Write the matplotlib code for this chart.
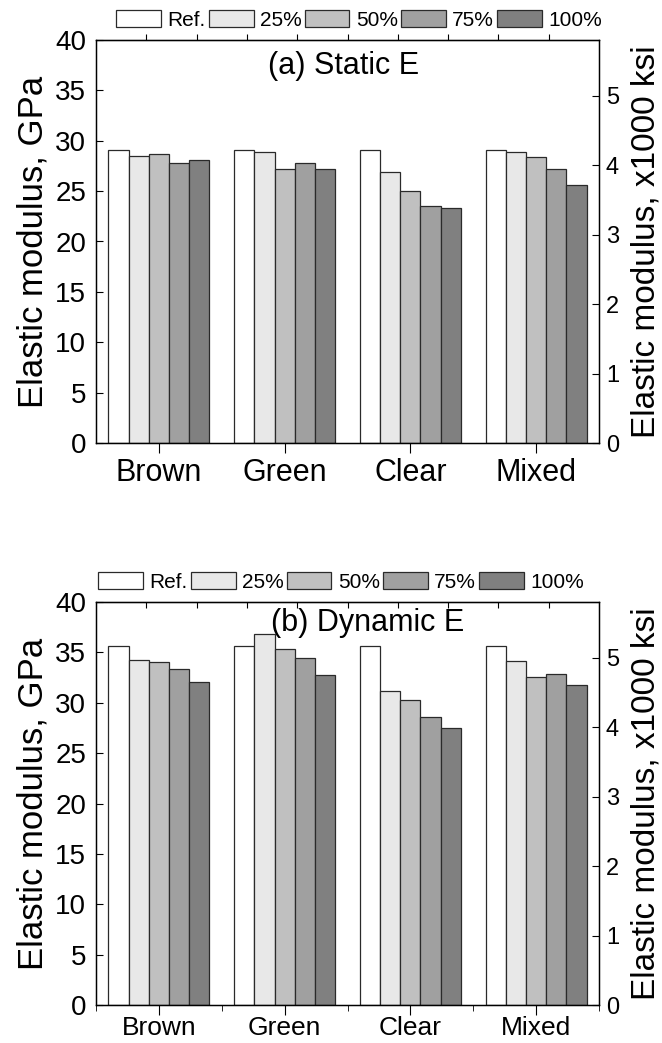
import matplotlib
matplotlib.use('Agg')
import matplotlib.pyplot as plt
import numpy as np

plt.rcParams['font.family'] = ['Liberation Sans', 'DejaVu Sans']

categories = ['Brown', 'Green', 'Clear', 'Mixed']
series = ['Ref.', '25%', '50%', '75%', '100%']
colors = ['#ffffff', '#e8e8e8', '#c0c0c0', '#a0a0a0', '#808080']

# static E, GPa  (rows = series, cols = categories)
static_ref = [29.1, 29.1, 29.1, 29.1]
static_25 = [28.5, 28.9, 26.9, 28.9]
static_50 = [28.7, 27.2, 25.0, 28.35]
static_75 = [27.8, 27.8, 23.5, 27.2]
static_100 = [28.1, 27.2, 23.35, 25.6]

# dynamic E, GPa
dyn_ref = [35.6, 35.6, 35.6, 35.6]
dyn_25 = [34.2, 36.8, 31.2, 34.1]
dyn_50 = [34.0, 35.3, 30.3, 32.55]
dyn_75 = [33.35, 34.45, 28.6, 32.85]
dyn_100 = [32.1, 32.75, 27.5, 31.75]

GPA_PER_KSI1000 = 6.895

fig = plt.figure(figsize=(6.62, 10.43), dpi=100)
W, H = 662.0, 1043.0


def panel(top_px, data, title, title_xy, leg_xy, catsize, catpad, top_out):
    ax = fig.add_axes([96 / W, 1 - (top_px + 403) / H, 503 / W, 403 / H])
    x = np.arange(1, 5)
    bw = 0.161
    for i, (vals, c, lab) in enumerate(zip(data, colors, series)):
        ax.bar(x + (i - 2) * bw, vals, bw, color=c, edgecolor='#2a2a2a',
               linewidth=0.9, label=lab)
    ax.set_xlim(0.5, 4.5)
    ax.set_ylim(0, 40)
    ax.set_yticks(range(0, 41, 5))
    ax.set_xticks(x)
    ax.set_xticklabels(categories, fontsize=catsize)
    ax.tick_params(axis='y', direction='in', length=5, labelsize=20, pad=7)
    ax.tick_params(axis='x', direction='out', length=7, pad=catpad)
    if not top_out:
        ax.set_xticks(np.arange(0.5, 4.6, 1.0), minor=True)
        ax.tick_params(axis='x', which='minor', direction='out', length=4)
    ax.set_ylabel('Elastic modulus, GPa', fontsize=25, labelpad=4)
    for s in ax.spines.values():
        s.set_linewidth(1.0)

    sec = ax.secondary_xaxis('top')
    sec.set_xticks(np.arange(0.9, 4.3, 0.4))
    sec.set_xticklabels([])
    sec.tick_params(direction='out' if top_out else 'in', length=4)

    ax2 = ax.twinx()
    ax2.set_ylim(0, 40 / GPA_PER_KSI1000)
    ax2.set_yticks(range(0, 6))
    ax2.tick_params(axis='y', direction='in', length=5, labelsize=17, pad=5)
    ax2.set_ylabel('Elastic modulus, x1000 ksi', fontsize=24, labelpad=8)

    fig.text(title_xy[0] / W, 1 - title_xy[1] / H, title, fontsize=22,
             ha='center', va='center')
    h, l = ax.get_legend_handles_labels()
    fig.legend(h, l, loc='center', bbox_to_anchor=(leg_xy[0] / W, 1 - leg_xy[1] / H),
               ncol=5, frameon=False, fontsize=15, handlelength=2.15,
               handleheight=0.9, handletextpad=0.3, columnspacing=0.15,
               borderpad=0.0)
    return ax


panel(40, [static_ref, static_25, static_50, static_75, static_100],
      '(a) Static E', (344, 66), (359, 20), 22, 4, True)
panel(602, [dyn_ref, dyn_25, dyn_50, dyn_75, dyn_100],
      '(b) Dynamic E', (368, 623), (341, 582), 19, 1, False)

fig.savefig('out.png', dpi=100)
